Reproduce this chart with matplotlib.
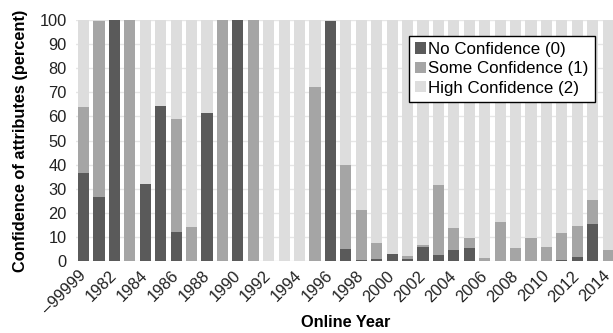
import numpy as np
import matplotlib
matplotlib.use("Agg")
import matplotlib.pyplot as plt

plt.rcParams['font.family'] = ['Liberation Sans', 'DejaVu Sans']

years = ['\u201399999'] + [str(y) for y in range(1981, 2015)]

# percent of attributes per confidence level
no_conf = [36.5, 26.5, 100, 0, 32, 64.5, 12, 0, 61.5, 0,
           100, 0, 0, 0, 0, 0, 99.5, 5, 0.5, 1,
           3, 1, 6, 2.5, 4.5, 5.3, 0, 0, 0, 0,
           0, 0.5, 1.8, 15.2, 0]
some_conf = [27.5, 73, 0, 100, 0, 0, 47, 14, 0, 100,
             0, 100, 0, 0, 0, 72, 0, 35, 20.5, 6.5,
             0, 1, 0.5, 28.9, 9.3, 4.2, 1.1, 16.3, 5.5, 9.5,
             5.8, 11.1, 12.6, 10.1, 4.6]
high_conf = [100 - a - b for a, b in zip(no_conf, some_conf)]

fig = plt.figure(figsize=(6.13, 3.33), dpi=100)
ax = fig.add_axes([0.1237, 0.2162, 0.881, 0.7237])

x = np.arange(len(years))
w = 0.72
ax.bar(x, no_conf, w, color='#5a5a5a', label='No Confidence (0)', zorder=2)
ax.bar(x, some_conf, w, bottom=no_conf, color='#a5a5a5', label='Some Confidence (1)', zorder=2)
bottom2 = [a + b for a, b in zip(no_conf, some_conf)]
ax.bar(x, high_conf, w, bottom=bottom2, color='#dddddd', label='High Confidence (2)', zorder=2)

ax.set_xlim(-0.5, len(years) - 0.5)
ax.set_ylim(0, 100)
ax.set_yticks(range(0, 101, 10))
ax.yaxis.grid(True, color='#e6e6e6', linewidth=1, zorder=0)
ax.set_axisbelow(True)
for s in ax.spines.values():
    s.set_visible(False)
ax.tick_params(length=0, colors='#222222')
ax.tick_params(axis='y', labelsize=11.8, pad=6.5)

ax.set_xticks(x[::2])
ax.set_xticklabels(years[::2], rotation=45, ha='right', va='center', rotation_mode='anchor', fontsize=11.8)
ax.tick_params(axis='x', pad=9)

ax.set_xlabel('Online Year', fontweight='bold', fontsize=11.8)
ax.xaxis.set_label_coords(0.5, -0.226)
ax.set_ylabel('Confidence of attributes (percent)', fontweight='bold', fontsize=11.8, labelpad=8)

leg = ax.legend(loc='upper right', bbox_to_anchor=(0.9605, 0.934), fontsize=12.2, frameon=True,
                fancybox=False, edgecolor='black', handlelength=0.65, handleheight=0.65,
                handletextpad=0.15, borderpad=0.35, labelspacing=0.26, borderaxespad=0,
                framealpha=1)
leg.get_frame().set_linewidth(1)

fig.savefig('out.png', dpi=100)
